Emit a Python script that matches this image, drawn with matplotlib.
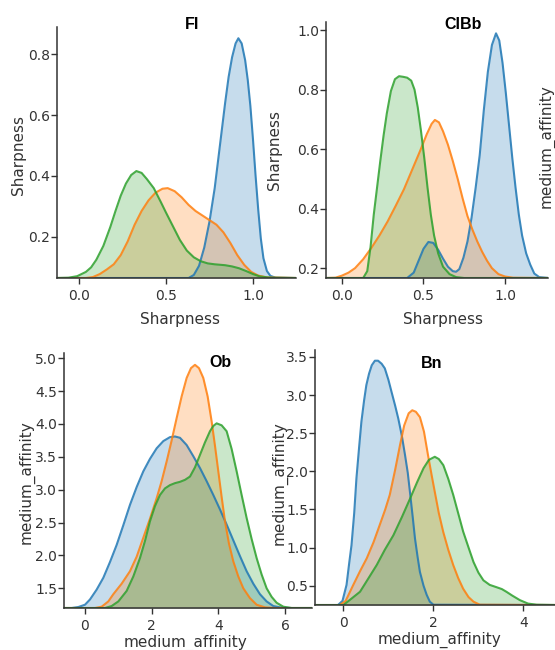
import matplotlib.pyplot as plt

BLUE = '#1f77b4'
ORANGE = '#ff7f0e'
GREEN = '#2ca02c'
TEXT = '#333333'

# ---- FI : Sharpness ----
fi_blue_x = [-0.13, 0.63, 0.66, 0.69, 0.72, 0.75, 0.78, 0.81, 0.84, 0.86, 0.88, 0.90, 0.916,
             0.935, 0.955, 0.97, 0.985, 1.00, 1.015, 1.03, 1.045, 1.06, 1.08, 1.10, 1.13, 1.25]
fi_blue_y = [0.065, 0.065, 0.075, 0.105, 0.165, 0.25, 0.36, 0.50, 0.64, 0.725, 0.79, 0.835, 0.852,
             0.835, 0.78, 0.715, 0.63, 0.52, 0.40, 0.29, 0.195, 0.13, 0.088, 0.072, 0.066, 0.065]
fi_orange_x = [-0.13, 0.04, 0.08, 0.12, 0.16, 0.20, 0.24, 0.28, 0.32, 0.36, 0.40, 0.44, 0.48, 0.51,
               0.55, 0.59, 0.63, 0.67, 0.71, 0.75, 0.79, 0.83, 0.87, 0.91, 0.95, 0.99, 1.03, 1.08, 1.25]
fi_orange_y = [0.065, 0.065, 0.068, 0.078, 0.093, 0.11, 0.14, 0.185, 0.24, 0.285, 0.32, 0.345, 0.358, 0.36,
               0.35, 0.33, 0.305, 0.285, 0.27, 0.255, 0.24, 0.215, 0.18, 0.14, 0.108, 0.085, 0.073, 0.067, 0.065]
fi_green_x = [-0.13, -0.06, -0.01, 0.04, 0.07, 0.10, 0.14, 0.18, 0.21, 0.24, 0.27, 0.30, 0.33, 0.36,
              0.39, 0.43, 0.47, 0.50, 0.54, 0.58, 0.62, 0.66, 0.70, 0.74, 0.78, 0.84, 0.88, 0.92,
              0.96, 1.00, 1.04, 1.10, 1.25]
fi_green_y = [0.065, 0.066, 0.071, 0.085, 0.10, 0.125, 0.17, 0.232, 0.285, 0.335, 0.375, 0.403, 0.416, 0.41,
              0.39, 0.36, 0.315, 0.28, 0.235, 0.19, 0.155, 0.133, 0.12, 0.113, 0.11, 0.107, 0.103, 0.097,
              0.088, 0.078, 0.07, 0.066, 0.065]

# ---- ClBb : Sharpness ----
cl_blue_x = [-0.10, 0.40, 0.44, 0.47, 0.50, 0.53, 0.56, 0.59, 0.62, 0.65, 0.68, 0.70, 0.72, 0.745,
             0.77, 0.795, 0.82, 0.845, 0.87, 0.895, 0.92, 0.945, 0.965, 0.985, 1.005, 1.025, 1.045,
             1.065, 1.085, 1.105, 1.13, 1.155, 1.18, 1.21, 1.27]
cl_blue_y = [0.167, 0.167, 0.185, 0.225, 0.265, 0.288, 0.285, 0.262, 0.232, 0.205, 0.19, 0.188, 0.197, 0.235,
             0.29, 0.37, 0.47, 0.58, 0.73, 0.86, 0.95, 0.989, 0.965, 0.89, 0.79, 0.68, 0.57,
             0.47, 0.38, 0.31, 0.25, 0.212, 0.182, 0.17, 0.167]
cl_orange_x = [-0.10, -0.04, 0.0, 0.04, 0.08, 0.13, 0.18, 0.23, 0.28, 0.33, 0.38, 0.43, 0.48, 0.52,
               0.55, 0.57, 0.595, 0.62, 0.65, 0.68, 0.71, 0.74, 0.77, 0.80, 0.83, 0.86, 0.89,
               0.92, 0.96, 1.0, 1.05, 1.27]
cl_orange_y = [0.167, 0.168, 0.175, 0.185, 0.20, 0.23, 0.268, 0.31, 0.357, 0.41, 0.465, 0.53, 0.595, 0.65,
               0.685, 0.698, 0.69, 0.66, 0.615, 0.56, 0.50, 0.435, 0.375, 0.33, 0.29, 0.255, 0.225,
               0.20, 0.18, 0.172, 0.168, 0.167]
cl_green_x = [-0.10, 0.13, 0.155, 0.175, 0.195, 0.215, 0.235, 0.255, 0.275, 0.30, 0.325, 0.35, 0.375,
              0.40, 0.425, 0.445, 0.465, 0.485, 0.505, 0.525, 0.545, 0.565, 0.59, 0.62, 0.66, 0.70,
              0.75, 1.27]
cl_green_y = [0.167, 0.167, 0.19, 0.27, 0.38, 0.47, 0.56, 0.645, 0.72, 0.795, 0.835, 0.845, 0.843,
              0.84, 0.83, 0.80, 0.74, 0.66, 0.57, 0.47, 0.38, 0.31, 0.25, 0.205, 0.18, 0.17,
              0.167, 0.167]

# ---- Ob : medium_affinity ----
ob_blue_x = [-0.65, -0.4, -0.2, 0.0, 0.15, 0.35, 0.55, 0.75, 0.95, 1.15, 1.35, 1.55, 1.75, 1.95, 2.15,
             2.35, 2.55, 2.70, 2.85, 3.05, 3.25, 3.45, 3.65, 3.85, 4.05, 4.25, 4.45, 4.65, 4.85,
             5.05, 5.25, 5.45, 5.65, 5.9, 6.2, 6.85]
ob_blue_y = [1.2, 1.2, 1.215, 1.25, 1.33, 1.48, 1.66, 1.9, 2.16, 2.46, 2.77, 3.04, 3.28, 3.47, 3.63,
             3.74, 3.8, 3.81, 3.79, 3.68, 3.51, 3.33, 3.13, 2.92, 2.70, 2.47, 2.23, 1.99, 1.76,
             1.57, 1.41, 1.30, 1.23, 1.205, 1.2, 1.2]
ob_orange_x = [-0.65, 0.3, 0.5, 0.7, 0.85, 1.1, 1.35, 1.55, 1.75, 1.95, 2.15, 2.3, 2.45, 2.6, 2.75,
               2.9, 3.05, 3.18, 3.30, 3.42, 3.55, 3.68, 3.80, 3.90, 4.00, 4.10, 4.20, 4.32, 4.45,
               4.60, 4.75, 4.95, 5.15, 5.4, 5.7, 6.85]
ob_orange_y = [1.2, 1.2, 1.22, 1.3, 1.41, 1.57, 1.76, 1.98, 2.27, 2.56, 2.87, 3.13, 3.43, 3.75, 4.09,
               4.42, 4.70, 4.85, 4.90, 4.85, 4.70, 4.42, 4.04, 3.67, 3.28, 2.89, 2.52, 2.18, 1.91,
               1.68, 1.50, 1.35, 1.25, 1.21, 1.2, 1.2]
ob_green_x = [-0.65, 0.6, 0.8, 1.0, 1.25, 1.45, 1.65, 1.80, 1.95, 2.10, 2.25, 2.40, 2.55, 2.70, 2.85,
              3.00, 3.15, 3.30, 3.45, 3.60, 3.75, 3.85, 3.95, 4.10, 4.25, 4.40, 4.55, 4.70, 4.85,
              5.0, 5.15, 5.30, 5.45, 5.60, 5.75, 5.95, 6.2, 6.85]
ob_green_y = [1.2, 1.2, 1.23, 1.3, 1.46, 1.68, 1.96, 2.22, 2.52, 2.75, 2.92, 3.02, 3.07, 3.10, 3.12,
              3.15, 3.20, 3.34, 3.53, 3.72, 3.89, 3.97, 4.01, 3.98, 3.89, 3.62, 3.28, 2.92, 2.57,
              2.25, 1.96, 1.71, 1.50, 1.37, 1.28, 1.22, 1.2, 1.2]

# ---- Bn : medium_affinity ----
bn_blue_x = [-0.65, -0.12, -0.02, 0.07, 0.13, 0.18, 0.24, 0.29, 0.35, 0.40, 0.46, 0.51, 0.57, 0.63,
             0.70, 0.77, 0.85, 0.92, 1.0, 1.07, 1.15, 1.22, 1.30, 1.37, 1.43, 1.48, 1.54, 1.59,
             1.65, 1.70, 1.78, 1.85, 1.92, 2.0, 4.75]
bn_blue_y = [0.246, 0.246, 0.30, 0.51, 0.8, 1.03, 1.45, 1.91, 2.32, 2.65, 2.93, 3.13, 3.28, 3.39,
             3.45, 3.45, 3.41, 3.35, 3.2, 3.04, 2.86, 2.69, 2.46, 2.21, 1.98, 1.72, 1.40, 1.12,
             0.87, 0.68, 0.50, 0.38, 0.29, 0.25, 0.246]
bn_orange_x = [-0.65, -0.08, 0.05, 0.22, 0.37, 0.52, 0.67, 0.81, 0.93, 1.03, 1.15, 1.26, 1.35, 1.45,
               1.53, 1.61, 1.70, 1.79, 1.88, 1.96, 2.03, 2.12, 2.22, 2.33, 2.44, 2.55, 2.66, 2.78,
               2.89, 3.03, 4.75]
bn_orange_y = [0.246, 0.246, 0.30, 0.51, 0.69, 0.86, 1.07, 1.30, 1.50, 1.69, 2.02, 2.35, 2.60, 2.76,
               2.80, 2.78, 2.71, 2.52, 2.21, 1.95, 1.73, 1.45, 1.20, 0.97, 0.77, 0.60, 0.46, 0.35,
               0.29, 0.25, 0.246]
bn_green_x = [-0.65, 0.0, 0.18, 0.37, 0.55, 0.74, 0.92, 1.11, 1.30, 1.48, 1.64, 1.78, 1.90, 2.03,
              2.12, 2.22, 2.33, 2.44, 2.55, 2.66, 2.78, 2.89, 3.00, 3.11, 3.25, 3.40, 3.52, 3.62,
              3.75, 3.92, 4.10, 4.29, 4.75]
bn_green_y = [0.246, 0.246, 0.33, 0.42, 0.59, 0.77, 0.97, 1.16, 1.40, 1.64, 1.86, 2.04, 2.15, 2.19,
              2.16, 2.08, 1.90, 1.69, 1.45, 1.21, 1.00, 0.81, 0.67, 0.57, 0.51, 0.48, 0.455, 0.42,
              0.37, 0.31, 0.265, 0.25, 0.246]


def kde_panel(ax, curves, xlim, ylim, xticks, yticks):
    # filled density curves, seaborn-like
    for x, y, c in curves:
        ax.fill_between(x, y, ylim[0], color=c, alpha=0.25, lw=0)
        ax.plot(x, y, color=c, lw=1.5, alpha=0.85)
    ax.set_xlim(*xlim)
    ax.set_ylim(*ylim)
    ax.set_xticks(xticks)
    ax.set_yticks(yticks)
    ax.set_facecolor('none')
    for s in ['top', 'right']:
        ax.spines[s].set_visible(False)
    for s in ['left', 'bottom']:
        ax.spines[s].set_color(TEXT)
        ax.spines[s].set_linewidth(1.1)
    ax.tick_params(axis='y', length=4, width=1, pad=1, colors=TEXT, labelsize=10)
    ax.tick_params(axis='x', length=4, width=1, pad=4, colors=TEXT, labelsize=10)


fig = plt.figure(figsize=(5.55, 6.5), dpi=100)

ax1 = fig.add_axes([0.1027, 0.5723, 0.4306, 0.3862])
kde_panel(ax1, [(fi_blue_x, fi_blue_y, BLUE), (fi_orange_x, fi_orange_y, ORANGE),
                (fi_green_x, fi_green_y, GREEN)],
          (-0.126, 1.247), (0.065, 0.889), [0.0, 0.5, 1.0], [0.2, 0.4, 0.6, 0.8])
ax1.set_xlabel('Sharpness', fontsize=11, color=TEXT)
ax1.set_ylabel('Sharpness', fontsize=11, color=TEXT)
ax1.xaxis.set_label_coords(0.515, -0.135)
ax1.yaxis.set_label_coords(-0.13, 0.49)
ax1.text(0.565, 1.01, 'FI', transform=ax1.transAxes, ha='center', va='center',
         fontsize=11.5, fontweight='bold', family='Liberation Sans')

ax2 = fig.add_axes([0.5874, 0.5723, 0.4, 0.3938])
kde_panel(ax2, [(cl_blue_x, cl_blue_y, BLUE), (cl_orange_x, cl_orange_y, ORANGE),
                (cl_green_x, cl_green_y, GREEN)],
          (-0.098, 1.264), (0.167, 1.027), [0.0, 0.5, 1.0], [0.2, 0.4, 0.6, 0.8, 1.0])
ax2.set_xlabel('Sharpness', fontsize=11, color=TEXT)
ax2.set_ylabel('Sharpness', fontsize=11, color=TEXT)
ax2.xaxis.set_label_coords(0.527, -0.133)
ax2.yaxis.set_label_coords(-0.198, 0.5)
ax2.text(0.617, 0.99, 'ClBb', transform=ax2.transAxes, ha='center', va='center',
         fontsize=11.5, fontweight='bold', family='Liberation Sans')

ax3 = fig.add_axes([0.1153, 0.0646, 0.4468, 0.3923])
kde_panel(ax3, [(ob_blue_x, ob_blue_y, BLUE), (ob_orange_x, ob_orange_y, ORANGE),
                (ob_green_x, ob_green_y, GREEN)],
          (-0.63, 6.81), (1.2, 5.08), [0, 2, 4, 6], [1.5, 2.0, 2.5, 3.0, 3.5, 4.0, 4.5, 5.0])
ax3.set_xlabel('medium_affinity', fontsize=11, color=TEXT)
ax3.set_ylabel('medium_affinity', fontsize=11, color=TEXT)
ax3.xaxis.set_label_coords(0.488, -0.106)
ax3.yaxis.set_label_coords(-0.117, 0.494)
ax3.text(0.629, 0.961, 'Ob', transform=ax3.transAxes, ha='center', va='center',
         fontsize=11.5, fontweight='bold', family='Liberation Sans')

ax4 = fig.add_axes([0.5676, 0.0692, 0.4324, 0.3923])
kde_panel(ax4, [(bn_blue_x, bn_blue_y, BLUE), (bn_orange_x, bn_orange_y, ORANGE),
                (bn_green_x, bn_green_y, GREEN)],
          (-0.63, 4.7), (0.246, 3.59), [0, 2, 4], [0.5, 1.0, 1.5, 2.0, 2.5, 3.0, 3.5])
ax4.set_xlabel('medium_affinity', fontsize=11, color=TEXT)
ax4.set_ylabel('medium_affinity', fontsize=11, color=TEXT)
ax4.xaxis.set_label_coords(0.52, -0.106)
ax4.yaxis.set_label_coords(-0.1125, 0.478)
ax4.text(0.4875, 0.949, 'Bn', transform=ax4.transAxes, ha='center', va='center',
         fontsize=11.5, fontweight='bold', family='Liberation Sans')

# y label of the next panel along, at the right edge
fig.text(0.984, 0.775, 'medium_affinity', rotation=90, ha='center', va='center',
         fontsize=11, color=TEXT)

fig.savefig('out.png', dpi=100, facecolor='white')
